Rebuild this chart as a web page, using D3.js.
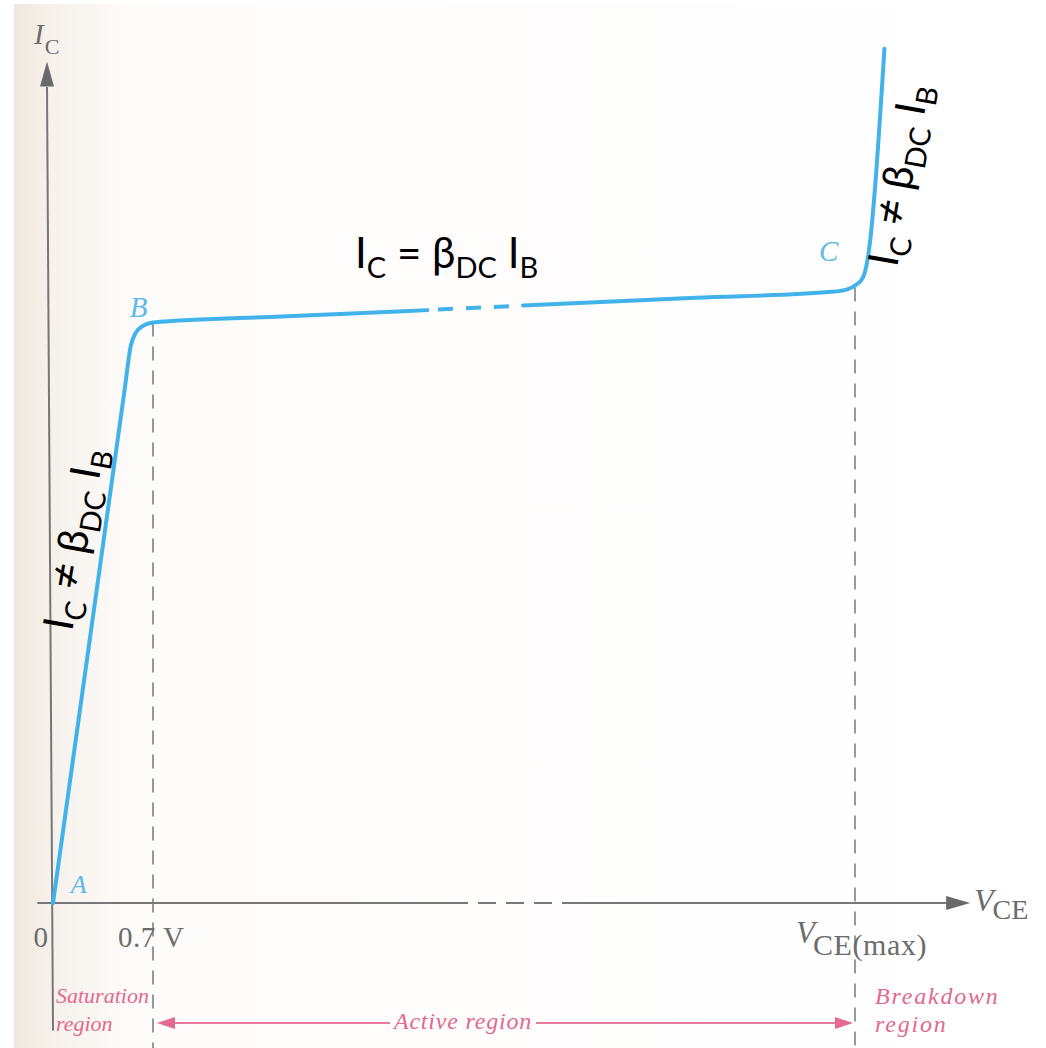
<!DOCTYPE html>
<html>
<head>
<meta charset="utf-8">
<script src="https://cdn.jsdelivr.net/npm/d3@7"></script>
<style>
  html, body { margin: 0; padding: 0; background: #ffffff; }
  svg { display: block; }
</style>
</head>
<body>
<svg id="chart" width="1046" height="1048"></svg>
<script>
// Collector characteristic of a BJT: I_C versus V_CE for one base current.

// Curve, first solid run: saturation rise, knee B, start of the active region (V, mA)
const curveSaturation = [[0, 0], [0.25, 3.01], [0.50, 6.02], [0.545, 6.56], [0.58, 6.71], [0.63, 6.79], [0.70, 6.83], [1.6, 6.90], [2.62, 6.975]];
// Broken (dashed) stretch of the active region
const curveBreak = [[2.695, 6.982], [3.199, 7.02]];
// Second solid run: rest of the active region, knee C and breakdown
const curveBreakdown = [[3.29, 7.03], [4.5, 7.12], [5.45, 7.19], [5.56, 7.22], [5.62, 7.27], [5.67, 7.36], [5.70, 7.55], [5.82, 10.05]];

// Horizontal axis pieces (V): solid, dashed break, solid up to the arrow
const axisSolidLeft = [-0.11, 2.905];
const axisDashed = [2.975, 3.493];
const axisSolidRight = [3.563, 6.265];
const axisArrowTip = 6.42;

// Marked voltages
const vSat = 0.7;
const vceMax = 5.614;
const tickLabels = ["0", "0.7 V"];

// Point labels on the curve: [name, V, mA]
const pointLabels = [["A", 0.18, 0.12], ["B", 0.60, 6.9], ["C", 5.43, 7.55]];

// Region labels
const regionSaturation = ["Saturation", "region"];
const regionActive = "Active region";
const regionBreakdown = ["Breakdown", "region"];

const W = 1046, H = 1048;
const svg = d3.select("#chart");

const x = d3.scaleLinear().domain([0, 0.7]).range([53, 153]);
const y = d3.scaleLinear().domain([0, 10]).range([903, 53]);

const blue = "#41b3ea";
const blueLabel = "#5cb9e8";
const gray = "#777777";
const grayText = "#6c6c6c";
const pink = "#e2688f";
const serif = "'Liberation Serif', 'Times New Roman', serif";
const sans = "Lato, 'Open Sans', 'Noto Sans', sans-serif";

// Paper background
const defs = svg.append("defs");
const grad = defs.append("linearGradient").attr("id", "paper").attr("x1", 0).attr("x2", 1).attr("y1", 0).attr("y2", 0);
grad.append("stop").attr("offset", "0").attr("stop-color", "#efe7dd");
grad.append("stop").attr("offset", "0.035").attr("stop-color", "#f6f1eb");
grad.append("stop").attr("offset", "0.12").attr("stop-color", "#fefcfb");
grad.append("stop").attr("offset", "1").attr("stop-color", "#ffffff");
svg.append("rect").attr("x", 0).attr("y", 0).attr("width", W).attr("height", H).attr("fill", "#ffffff");
svg.append("rect").attr("x", 14).attr("y", 4).attr("width", W - 14).attr("height", H - 4).attr("fill", "url(#paper)");

// Dashed guides at 0.7 V and V_CE(max)
[[vSat, 6.83], [vceMax, 7.24]].forEach(([v, ic]) => {
  svg.append("line")
    .attr("x1", x(v)).attr("x2", x(v))
    .attr("y1", y(ic)).attr("y2", H)
    .attr("stroke", "#808080").attr("stroke-width", 1.6)
    .attr("stroke-dasharray", "14 10");
});

// Horizontal axis
const axisG = svg.append("g").attr("stroke", gray).attr("stroke-width", 2.2);
axisG.append("line").attr("x1", x(axisSolidLeft[0])).attr("x2", x(axisSolidLeft[1])).attr("y1", y(0)).attr("y2", y(0));
axisG.append("line").attr("x1", x(axisDashed[0])).attr("x2", x(axisDashed[1])).attr("y1", y(0)).attr("y2", y(0))
  .attr("stroke-dasharray", "18 10");
axisG.append("line").attr("x1", x(axisSolidRight[0])).attr("x2", x(axisSolidRight[1])).attr("y1", y(0)).attr("y2", y(0));
svg.append("path")
  .attr("d", `M${x(axisArrowTip)},${y(0)} L${x(axisArrowTip) - 24},${y(0) - 7} L${x(axisArrowTip) - 24},${y(0) + 7} Z`)
  .attr("fill", "#6a6a6a");

// Vertical axis (leans a few pixels left toward its arrow)
const yAxisBottom = y(-1.5), yAxisTop = y(9.6), yArrowTip = y(9.9);
const lean = -6;
svg.append("line")
  .attr("x1", x(0)).attr("y1", yAxisBottom)
  .attr("x2", x(0) + lean).attr("y2", yAxisTop)
  .attr("stroke", gray).attr("stroke-width", 2);
svg.append("path")
  .attr("d", `M${x(0) + lean},${yArrowTip} L${x(0) + lean - 7},${yArrowTip + 25} L${x(0) + lean + 7},${yArrowTip + 25} Z`)
  .attr("fill", "#6a6a6a");

// Axis titles
const yTitle = svg.append("text").attr("x", 34).attr("y", 44).attr("fill", grayText).attr("font-family", serif);
yTitle.append("tspan").attr("font-style", "italic").attr("font-size", 29).text("I");
yTitle.append("tspan").attr("font-size", 22).attr("dy", 10).attr("dx", 1).text("C");

const xTitle = svg.append("text").attr("x", 974).attr("y", 911).attr("fill", grayText).attr("font-family", serif);
xTitle.append("tspan").attr("font-style", "italic").attr("font-size", 32).text("V");
xTitle.append("tspan").attr("font-size", 28).attr("dy", 8).attr("dx", -1).text("CE");

// Tick labels
svg.append("text").attr("x", x(0) - 5).attr("y", 947).attr("text-anchor", "end")
  .attr("fill", grayText).attr("font-family", serif).attr("font-size", 29).text(tickLabels[0]);
svg.append("text").attr("x", x(vSat) - 35).attr("y", 947)
  .attr("fill", grayText).attr("font-family", serif).attr("font-size", 29).attr("letter-spacing", 0.5).text(tickLabels[1]);
const vmax = svg.append("text").attr("x", 796).attr("y", 943).attr("fill", grayText).attr("font-family", serif);
vmax.append("tspan").attr("font-style", "italic").attr("font-size", 31).text("V");
vmax.append("tspan").attr("font-size", 30).attr("dy", 12).attr("dx", -2).attr("letter-spacing", 0.6).text("CE(max)");

// Characteristic curve
const line = d3.line().x(d => x(d[0])).y(d => y(d[1])).curve(d3.curveMonotoneX);
const curveG = svg.append("g").attr("fill", "none").attr("stroke", blue).attr("stroke-width", 4)
  .attr("stroke-linecap", "round").attr("stroke-linejoin", "round");
curveG.append("path").attr("d", line(curveSaturation));
curveG.append("path").attr("d", d3.line().x(d => x(d[0])).y(d => y(d[1]))(curveBreak))
  .attr("stroke-dasharray", "15 13").attr("stroke-linecap", "butt");
curveG.append("path").attr("d", line(curveBreakdown));

// Point labels A, B, C
svg.selectAll("text.pt").data(pointLabels).join("text")
  .attr("class", "pt")
  .attr("x", d => x(d[1])).attr("y", d => y(d[2]))
  .attr("text-anchor", "middle")
  .attr("fill", blueLabel).attr("font-family", serif).attr("font-style", "italic")
  .attr("font-size", d => d[0] === "A" ? 26 : 29)
  .text(d => d[0]);

// Region annotations
function regionLabel(lines, x0, y0, size, spacing) {
  const t = svg.append("text").attr("x", x0).attr("y", y0)
    .attr("fill", pink).attr("font-family", serif).attr("font-style", "italic")
    .attr("font-size", size).attr("letter-spacing", spacing);
  lines.forEach((s, i) => t.append("tspan").attr("x", x0).attr("dy", i === 0 ? 0 : 28).text(s));
}
regionLabel(regionSaturation, 56, 1003, 22, 0);
regionLabel(regionBreakdown, 875, 1004, 24, 1.8);

const arrowY = 1023;
const activeMid = 463;
svg.append("text").attr("x", activeMid).attr("y", 1029).attr("text-anchor", "middle")
  .attr("fill", pink).attr("font-family", serif).attr("font-style", "italic").attr("font-size", 24)
  .attr("letter-spacing", 0.8)
  .text(regionActive);
const pinkLine = svg.append("g").attr("stroke", "#e7799c").attr("stroke-width", 2);
pinkLine.append("line").attr("x1", x(vSat) + 18).attr("x2", 390).attr("y1", arrowY).attr("y2", arrowY);
pinkLine.append("line").attr("x1", 536).attr("x2", x(vceMax) - 18).attr("y1", arrowY).attr("y2", arrowY);
svg.append("path")
  .attr("d", `M${x(vSat) + 4},${arrowY} L${x(vSat) + 22},${arrowY - 6} L${x(vSat) + 22},${arrowY + 6} Z`)
  .attr("fill", "#e56a93");
svg.append("path")
  .attr("d", `M${x(vceMax) - 2},${arrowY} L${x(vceMax) - 20},${arrowY - 6} L${x(vceMax) - 20},${arrowY + 6} Z`)
  .attr("fill", "#e56a93");

// Equations: I_C = β_DC I_B in the active region, I_C ≠ β_DC I_B elsewhere
function formula(rel, tx, ty, angle) {
  const parts = [
    { s: "I" }, { s: "C", sub: true },
    { s: " " }, { s: rel, rel: true }, { s: " " }, { s: "β" }, { s: "DC", sub: true },
    { s: " I" }, { s: "B", sub: true }
  ];
  const t = svg.append("text")
    .attr("transform", `translate(${tx},${ty}) rotate(${angle})`)
    .attr("font-family", sans).attr("fill", "#000000").attr("font-size", 42);
  let down = false;
  parts.forEach(p => {
    const ts = t.append("tspan").text(p.s);
    if (p.rel && p.s === "≠") ts.attr("font-family", "'Open Sans', sans-serif").attr("font-size", 44);
    if (p.sub) { ts.attr("font-size", 29).attr("dy", down ? 0 : 10); down = true; }
    else { ts.attr("dy", down ? -10 : 0); down = false; }
  });
}
formula("=", 355, 268, 0);
formula("≠", 72, 632, -80);
formula("≠", 897, 268, -80);
</script>
</body>
</html>
